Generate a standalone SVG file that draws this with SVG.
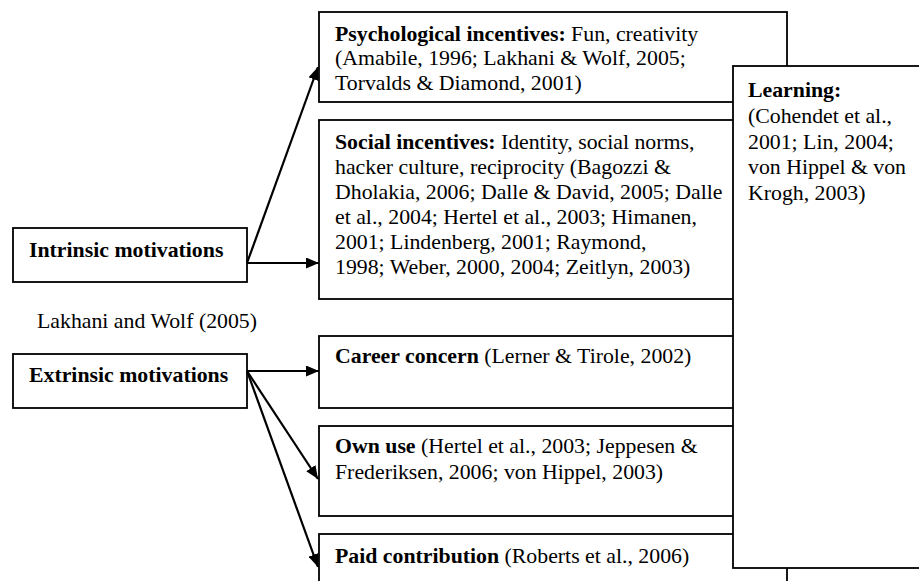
<svg xmlns="http://www.w3.org/2000/svg" width="919" height="581" viewBox="0 0 919 581" font-family="'Liberation Serif', 'Times New Roman', Times, serif" font-size="21.8">
<defs>
<style>
.box{fill:#fff;stroke:#000;stroke-width:1.8}
text{font-family:'Liberation Serif','Times New Roman',Times,serif;font-size:21.8px;fill:#000}
.b{font-weight:bold}
.con{stroke:#000;stroke-width:2.2;fill:none}
</style>
<marker id="ah" viewBox="0 0 13 11" refX="13" refY="5.5" markerWidth="13" markerHeight="11" markerUnits="userSpaceOnUse" orient="auto">
<path d="M0,0 L13,5.5 L0,11 z" fill="#000"/>
</marker>
</defs>
<rect width="919" height="581" fill="#fff"/>
<g id="psychological">
<rect class="box" x="319" y="12" width="468" height="90"/>
<text x="335" y="40.5"><tspan class="b">Psychological incentives:</tspan> Fun, creativity</text>
<text x="335" y="65">(Amabile, 1996; Lakhani &amp; Wolf, 2005;</text>
<text x="335" y="89.5">Torvalds &amp; Diamond, 2001)</text>
</g>
<g id="social">
<rect class="box" x="319" y="120" width="468" height="179"/>
<text x="335" y="149"><tspan class="b">Social incentives:</tspan> Identity, social norms,</text>
<text x="335" y="174">hacker culture, reciprocity (Bagozzi &amp;</text>
<text x="335" y="199">Dholakia, 2006; Dalle &amp; David, 2005; Dalle</text>
<text x="335" y="224">et al., 2004; Hertel et al., 2003; Himanen,</text>
<text x="335" y="249">2001; Lindenberg, 2001; Raymond,</text>
<text x="335" y="274">1998; Weber, 2000, 2004; Zeitlyn, 2003)</text>
</g>
<g id="career">
<rect class="box" x="319" y="336" width="468" height="72"/>
<text x="335" y="363"><tspan class="b">Career concern</tspan> (Lerner &amp; Tirole, 2002)</text>
</g>
<g id="ownuse">
<rect class="box" x="319" y="426" width="468" height="90"/>
<text x="335" y="453"><tspan class="b">Own use</tspan> (Hertel et al., 2003; Jeppesen &amp;</text>
<text x="335" y="479">Frederiksen, 2006; von Hippel, 2003)</text>
</g>
<g id="paid">
<rect class="box" x="319" y="534" width="468" height="80"/>
<text x="335" y="563"><tspan class="b">Paid contribution</tspan> (Roberts et al., 2006)</text>
</g>
<g id="learning">
<rect class="box" x="733" y="66" width="200" height="502"/>
<text x="748" y="97" class="b">Learning:</text>
<text x="748" y="123">(Cohendet et al.,</text>
<text x="748" y="148.5">2001; Lin, 2004;</text>
<text x="748" y="174">von Hippel &amp; von</text>
<text x="748" y="199.5">Krogh, 2003)</text>
</g>
<g id="intrinsic">
<rect class="box" x="13" y="228" width="234" height="54"/>
<text x="29" y="257" class="b">Intrinsic motivations</text>
</g>
<g id="extrinsic">
<rect class="box" x="13" y="354" width="234" height="54"/>
<text x="29" y="382" class="b">Extrinsic motivations</text>
</g>
<g id="source">
<text x="37" y="328">Lakhani and Wolf (2005)</text>
</g>
<g id="connectors">
<line class="con" x1="247" y1="263" x2="318" y2="67" marker-end="url(#ah)"/>
<line class="con" x1="247" y1="263" x2="319" y2="263" marker-end="url(#ah)"/>
<line class="con" x1="247" y1="371" x2="319" y2="371" marker-end="url(#ah)"/>
<line class="con" x1="247" y1="371" x2="318" y2="479" marker-end="url(#ah)"/>
<line class="con" x1="247" y1="371" x2="318" y2="567" marker-end="url(#ah)"/>
</g>
</svg>
